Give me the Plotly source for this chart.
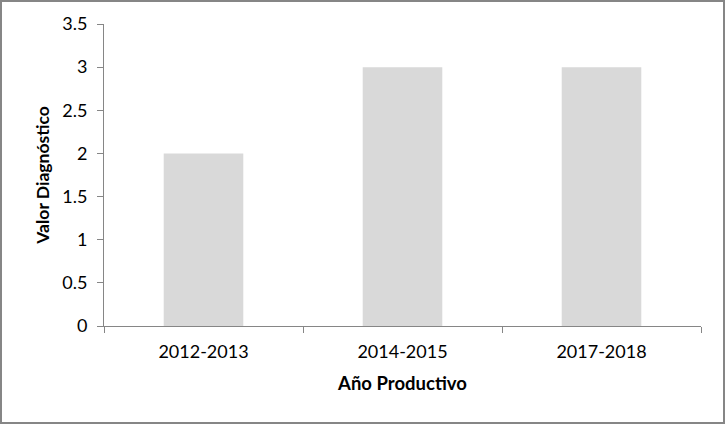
import plotly.graph_objects as go

categories = ["2012-2013", "2014-2015", "2017-2018"]
values = [2, 3, 3]

W, H = 725, 424
L, R, T, B = 104, 24, 24, 98
pw, ph = W - L - R, H - T - B

fig = go.Figure(go.Bar(x=categories, y=values, marker=dict(color="#D9D9D9", line=dict(width=0)),
                       hoverinfo="skip"))

font = "Lato, 'Open Sans', sans-serif"
fig.update_layout(
    width=W, height=H,
    margin=dict(l=L, r=R, t=T, b=B, autoexpand=False),
    paper_bgcolor="white", plot_bgcolor="white",
    bargap=0.6,
    showlegend=False,
    font=dict(family=font, size=18, color="#000000"),
)
fig.update_xaxes(
    type="category", automargin=False,
    showline=True, linecolor="#868686", linewidth=1,
    ticks="outside", tickson="boundaries", ticklen=6, tickcolor="#868686",
    showgrid=False,
    tickfont=dict(size=18),
    ticklabelstandoff=9,
    title=dict(text="<b>Año Productivo</b>", font=dict(size=18.5), standoff=16),
)
fig.update_yaxes(
    range=[0, 3.5], dtick=0.5, automargin=False,
    showline=True, linecolor="#868686", linewidth=1,
    ticks="outside", ticklen=6, tickcolor="#868686",
    showgrid=False, zeroline=False,
    tickfont=dict(size=18),
    ticklabelstandoff=6,
    title=dict(text="<b>Valor Diagnóstico</b>", font=dict(size=17.5), standoff=8),
)
fig.add_shape(
    type="rect", xref="paper", yref="paper",
    x0=(1 - L) / pw, x1=(W - 1 - L) / pw,
    y0=-(H - 1 - T - ph) / ph, y1=(T - 1) / ph + 1,
    line=dict(color="#868686", width=2), fillcolor="rgba(0,0,0,0)", layer="above",
)
fig.write_html(
    "out.html",
    config={"displayModeBar": False},
    post_script="document.body.style.margin='0px';document.body.style.overflow='hidden';",
)
